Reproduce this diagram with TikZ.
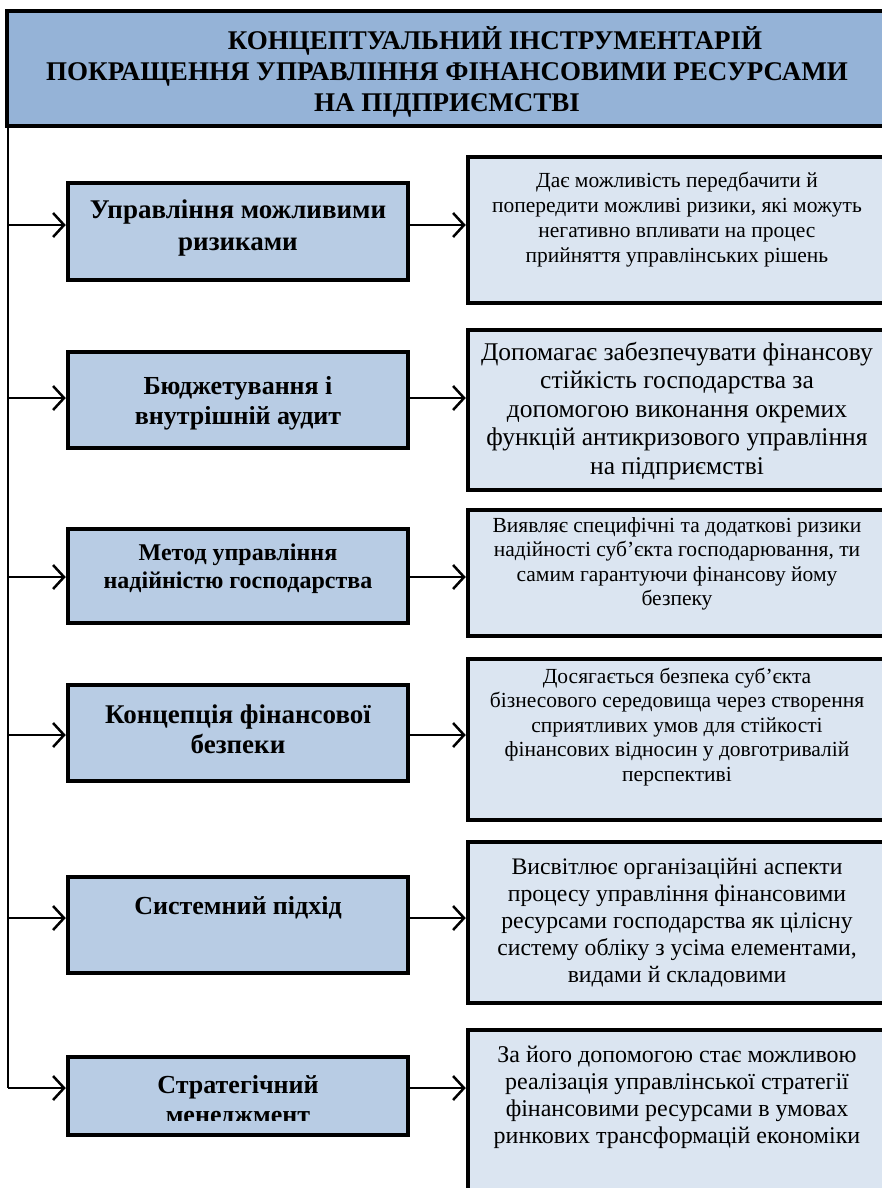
\documentclass[tikz,border=0pt]{standalone}
\usepackage{fontspec}
\setmainfont{Liberation Serif}
\usetikzlibrary{arrows.meta}
\definecolor{titleblue}{HTML}{95B3D7}
\definecolor{methblue}{HTML}{B8CCE4}
\definecolor{descblue}{HTML}{DBE5F1}
\tikzset{
  boxline/.style={draw=black,line width=4.5pt,inner sep=0pt},
  titlebox/.style={boxline,fill=titleblue,minimum width=879pt,minimum height=115pt},
  methbox/.style={boxline,fill=methblue,minimum width=340pt},
  descbox/.style={boxline,fill=descblue,minimum width=418pt},
  titletext/.style={align=center,font=\bfseries\fontsize{27}{31}\selectfont},
  methtext/.style={align=center,font=\bfseries\fontsize{26}{30}\selectfont},
  desctext/.style={align=center,font=\fontsize{21.5}{25}\selectfont},
  spine/.style={line width=2pt},
  arr/.style={line width=2.5pt,-{Straight Barb[length=11pt,width=24pt]}}
}
\newcommand{\methnode}{\node[methbox]}
\newcommand{\descnode}{\node[descbox]}
\newcommand{\txtnode}{\node}

\begin{document}
\begin{tikzpicture}[x=1pt,y=-1pt]
  \useasboundingbox (0,0) rectangle (882,1188);
  \clip (0,0) rectangle (882,1188);
  \node[titlebox] (title) at (446.5,68.5) {}; %
  \txtnode[titletext] (tt) at (447,72) {\hspace*{96pt}КОНЦЕПТУАЛЬНИЙ ІНСТРУМЕНТАРІЙ\\ПОКРАЩЕННЯ УПРАВЛІННЯ ФІНАНСОВИМИ РЕСУРСАМИ\\НА ПІДПРИЄМСТВІ};
  % left column
  \methnode[minimum height=97pt] (m1) at (238,231.5) {};
  \methnode[minimum height=96pt] (m2) at (238,400) {};
  \methnode[minimum height=94pt] (m3) at (238,576) {};
  \methnode[minimum height=96pt] (m4) at (238,733) {};
  \methnode[minimum height=96pt] (m5) at (238,925) {};
  \methnode[minimum height=78pt] (m6) at (238,1096) {};
  \txtnode[methtext,font=\bfseries\fontsize{27}{32}\selectfont] (n1) at (238,228) {Управління можливими\\ризиками};
  \txtnode[methtext] (n2) at (238,403) {Бюджетування і\\внутрішній аудит};
  \txtnode[methtext,font=\bfseries\fontsize{24}{28}\selectfont] (n3) at (238,569) {Метод управління\\надійністю господарства};
  \txtnode[methtext,font=\bfseries\fontsize{27}{30}\selectfont] (n4) at (238,729) {Концепція фінансової\\безпеки};
  \txtnode[methtext] (n5) at (238,908) {Системний підхід};
  \begin{scope}
    \clip (60,1050) rectangle (420,1120);
    \txtnode[methtext] (n6) at (238,1102) {Стратегічний\\менеджмент};
  \end{scope}
  % right column
  \descnode[minimum height=146pt] (d1) at (677,230) {};
  \descnode[minimum height=160pt] (d2) at (677,410) {};
  \descnode[minimum height=126pt] (d3) at (677,573) {};
  \descnode[minimum height=161pt] (d4) at (677,739.5) {};
  \descnode[minimum height=161pt] (d5) at (677,922.5) {};
  \descnode[minimum height=210pt] (d6) at (677,1135) {};
  \txtnode[desctext] (e1) at (677,220) {Дає можливість передбачити й\\попередити можливі ризики, які можуть\\негативно впливати на процес\\прийняття управлінських рішень};
  \txtnode[desctext,font=\fontsize{25.5}{28.5}\selectfont] (e2) at (677,411) {Допомагає забезпечувати фінансову\\стійкість господарства за\\допомогою виконання окремих\\функцій антикризового управління\\на підприємстві};
  \txtnode[desctext,font=\fontsize{21.5}{24.5}\selectfont] (e3) at (677,564) {Виявляє специфічні та додаткові ризики\\надійності суб’єкта господарювання, ти\\самим гарантуючи фінансову йому\\безпеку};
  \txtnode[desctext,font=\fontsize{21.5}{24.5}\selectfont] (e4) at (677,727) {Досягається безпека суб’єкта\\бізнесового середовища через створення\\сприятливих умов для стійкості\\фінансових відносин у довготривалій\\перспективі};
  \txtnode[desctext,font=\fontsize{23.7}{27}\selectfont] (e5) at (677,923) {Висвітлює організаційні аспекти\\процесу управління фінансовими\\ресурсами господарства як цілісну\\систему обліку з усіма елементами,\\видами й складовими};
  \txtnode[desctext,font=\fontsize{24}{27}\selectfont] (e6) at (677,1097) {За його допомогою стає можливою\\реалізація управлінської стратегії\\фінансовими ресурсами в умовах\\ринкових трансформацій економіки};
  % spine and arrows
  \coordinate (a1) at (8,225);
  \coordinate (a2) at (8,398);
  \coordinate (a3) at (8,577);
  \coordinate (a4) at (8,735);
  \coordinate (a5) at (8,918);
  \coordinate (a6) at (8,1088);
  \draw[spine] (title.south -| a1) -- (a6);
  \draw[arr] (a1) -- (a1 -| m1.west);
  \draw[arr] (a2) -- (a2 -| m2.west);
  \draw[arr] (a3) -- (a3 -| m3.west);
  \draw[arr] (a4) -- (a4 -| m4.west);
  \draw[arr] (a5) -- (a5 -| m5.west);
  \draw[arr] (a6) -- (a6 -| m6.west);
  \draw[arr] (a1 -| m1.east) -- (a1 -| d1.west);
  \draw[arr] (a2 -| m2.east) -- (a2 -| d2.west);
  \draw[arr] (a3 -| m3.east) -- (a3 -| d3.west);
  \draw[arr] (a4 -| m4.east) -- (a4 -| d4.west);
  \draw[arr] (a5 -| m5.east) -- (a5 -| d5.west);
  \draw[arr] (a6 -| m6.east) -- (a6 -| d6.west);
\end{tikzpicture}
\end{document}
